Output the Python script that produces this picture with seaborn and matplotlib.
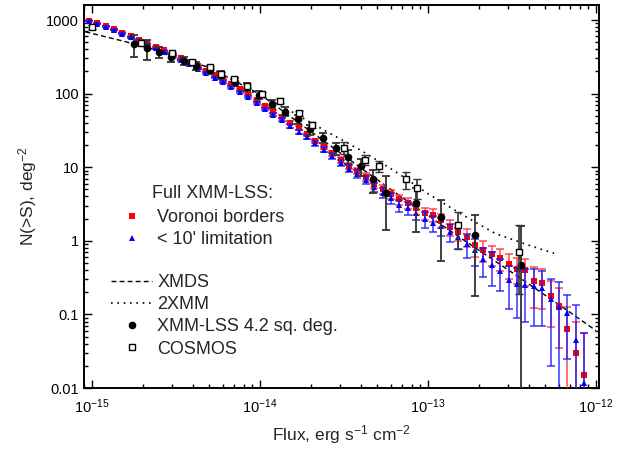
import numpy as np
import pandas as pd
import matplotlib
matplotlib.use("Agg")
import matplotlib.pyplot as plt
from matplotlib.lines import Line2D
import seaborn as sns

# ---------------- data ----------------
# Full XMM-LSS bins (log10 of flux, erg s^-1 cm^-2)
full_logflux = [-15.02, -14.97, -14.92, -14.87, -14.82, -14.77, -14.72, -14.67, -14.62, -14.57,
                -14.52, -14.47, -14.42, -14.37, -14.32, -14.27, -14.22, -14.17, -14.12, -14.07,
                -14.02, -13.97, -13.92, -13.87, -13.82, -13.77, -13.72, -13.67, -13.62, -13.57,
                -13.52, -13.47, -13.42, -13.37, -13.32, -13.27, -13.22, -13.17, -13.12, -13.07,
                -13.02, -12.97, -12.92, -12.87, -12.82, -12.77, -12.72, -12.67, -12.62, -12.57,
                -12.52, -12.47, -12.42, -12.37, -12.32, -12.27, -12.22, -12.17, -12.12, -12.07]

voronoi_n = [977, 902, 828, 748, 671, 603, 537, 482, 434, 389,
             344, 304, 268, 234, 204, 178, 155, 133, 115, 98,
             82, 68, 57, 48.5, 40, 34, 28, 23, 19, 15.5,
             12.5, 10.5, 8.9, 7.4, 6.0, 5.0, 4.3, 3.66, 3.24, 2.77,
             2.37, 2.24, 1.92, 1.56, 1.33, 1.14, 0.88, 0.75, 0.66, 0.58,
             0.48, 0.42, 0.40, 0.284, 0.27, 0.178, 0.13, 0.063, 0.030, 0.015]
voronoi_err = [9.4, 9.1, 8.7, 8.2, 7.8, 7.4, 7.0, 6.6, 6.3, 5.9,
               5.6, 5.3, 4.9, 4.6, 4.3, 4.0, 3.75, 3.5, 3.2, 3.0,
               2.7, 2.5, 2.3, 2.1, 1.9, 1.76, 1.6, 1.45, 1.31, 1.19,
               1.07, 0.98, 0.9, 0.82, 0.74, 0.67, 0.63, 0.58, 0.54, 0.5,
               0.46, 0.45, 0.42, 0.38, 0.35, 0.32, 0.28, 0.24, 0.2, 0.19,
               0.18, 0.16, 0.16, 0.16, 0.15, 0.11, 0.095, 0.065, 0.05, 0.041]

limit10_n = [970, 890, 815, 735, 655, 585, 520, 462, 412, 368,
             325, 285, 250, 218, 190, 165, 143, 123, 106, 90,
             75, 62, 52, 44, 36.5, 30.5, 25.5, 21, 17.3, 14.2,
             11.5, 9.6, 8.1, 6.7, 5.4, 4.5, 3.8, 3.06, 2.77, 2.41,
             1.96, 1.76, 1.59, 1.33, 1.14, 0.91, 0.75, 0.56, 0.47, 0.39,
             0.29, 0.26, 0.25, 0.24, 0.23, 0.16, 0.126, 0.105, 0.045, 0.0116]
limit10_err = [10.4, 9.9, 9.5, 9.0, 8.5, 8.1, 7.6, 7.2, 6.8, 6.4,
               6.0, 5.6, 5.3, 4.9, 4.6, 4.3, 4.0, 3.7, 3.4, 3.2,
               2.9, 2.6, 2.4, 2.2, 2.0, 1.84, 1.68, 1.53, 1.39, 1.26,
               1.13, 1.03, 0.95, 0.86, 0.77, 0.71, 0.65, 0.58, 0.55, 0.52,
               0.47, 0.44, 0.42, 0.38, 0.36, 0.32, 0.30, 0.24, 0.225, 0.18,
               0.17, 0.17, 0.17, 0.17, 0.16, 0.14, 0.15, 0.08, 0.09, 0.045]

# XMM-LSS 4.2 sq. deg.
lss42_logflux = [-14.75, -14.675, -14.6, -14.53, -14.455, -14.38, -14.3, -14.23, -14.15, -14.08,
                 -14.005, -13.93, -13.85, -13.775, -13.7, -13.625, -13.545, -13.475, -13.4, -13.325,
                 -13.25, -13.07, -12.92, -12.72, -12.445]
lss42_n = [472, 412, 364, 311, 280, 239, 209, 179, 145, 124,
           95.5, 72, 57, 45, 32.7, 25, 18, 13.9, 10.3, 6.9,
           4.5, 3.3, 2.09, 1.2, 0.47]
lss42_err = [160, 125, 62, 38, 34, 29, 25, 21, 17, 15,
             12, 9, 8, 6.5, 5, 4, 3.2, 3.0, 2.6, 2.4,
             3.1, 2.0, 1.55, 1.02, 1.1]

# COSMOS
cosmos_logflux = [-15.0, -14.706, -14.526, -14.407, -14.3, -14.23, -14.157, -14.079, -13.99, -13.883,
                  -13.767, -13.69, -13.5, -13.377, -13.294, -13.133, -13.065, -12.821, -12.46]
cosmos_n = [811, 482, 353, 273, 228, 186, 156, 126, 97.5, 80,
            54, 37.5, 18.4, 12.6, 10.4, 6.85, 5.3, 1.63, 0.71]
cosmos_err_lo = [50, 30, 20, 15, 12, 10, 9, 8, 7, 6,
                 4.5, 3.5, 3.5, 1.9, 1.8, 1.8, 1.6, 0.85, 0.52]
cosmos_err_hi = [50, 30, 20, 15, 12, 10, 9, 8, 7, 6,
                 4.5, 3.5, 3.5, 1.9, 1.8, 1.8, 1.6, 0.85, 0.93]

# XMDS and 2XMM curves (log10 flux, log10 N)
xmds_logflux = [-15.04, -14.8, -14.55, -14.3, -14.0, -13.7, -13.4, -13.1, -12.8, -12.5, -12.2, -12.0]
xmds_logn = [2.84, 2.705, 2.55, 2.35, 1.99, 1.49, 0.99, 0.5, 0.03, -0.43, -0.90, -1.22]
xmm2_logflux = [-14.6, -14.4, -14.2, -14.0, -13.8, -13.6, -13.4, -13.2, -13.0, -12.8, -12.6, -12.4, -12.25]
xmm2_logn = [2.57, 2.38, 2.18, 1.98, 1.74, 1.48, 1.23, 0.95, 0.64, 0.36, 0.10, -0.06, -0.17]

# ---------------- style ----------------
sns.set_style("ticks")
plt.rcParams['font.family'] = ['Liberation Sans', 'DejaVu Sans']
plt.rcParams['mathtext.fontset'] = 'custom'
plt.rcParams['mathtext.rm'] = 'Liberation Sans'
plt.rcParams['mathtext.it'] = 'Liberation Sans:italic'
plt.rcParams['mathtext.bf'] = 'Liberation Sans:bold'

W, H = 634, 450
fig = plt.figure(figsize=(W / 100, H / 100), dpi=100)
L, R, B, T = 84, 599, 388, 5
ax = fig.add_axes([L / W, 1 - B / H, (R - L) / W, (B - T) / H])
ax.set_xscale('log')
ax.set_yscale('log')

full_flux = 10 ** np.array(full_logflux)

# model curves via seaborn
df_xmds = pd.DataFrame({'S': 10 ** np.array(xmds_logflux), 'N': 10 ** np.array(xmds_logn)})
df_2xmm = pd.DataFrame({'S': 10 ** np.array(xmm2_logflux), 'N': 10 ** np.array(xmm2_logn)})
sns.lineplot(data=df_xmds, x='S', y='N', ax=ax, color='black', lw=1.0,
             dashes=False, zorder=2)
ax.lines[-1].set_dashes((3.6, 2.2))
sns.lineplot(data=df_2xmm, x='S', y='N', ax=ax, color='black', lw=1.2,
             dashes=False, zorder=2)
ax.lines[-1].set_dashes((1, 2.8))

# Voronoi borders (red)
ax.errorbar(full_flux, voronoi_n, yerr=voronoi_err, fmt='none', ecolor=(1, 0.2, 0.2, 0.75),
            elinewidth=1.3, capsize=3, capthick=1.3, zorder=3)
ax.plot(full_flux, voronoi_n, 's', color='#ff0000', ms=4.2, mew=0, zorder=4)
# < 10' limitation (blue)
ax.errorbar(full_flux, limit10_n, yerr=limit10_err, fmt='none', ecolor=(0.1, 0.1, 1.0, 0.75),
            elinewidth=1.3, capsize=3, capthick=1.3, zorder=5)
ax.plot(full_flux, limit10_n, '^', color='#0000ff', ms=4.6, mew=0, zorder=6)

# XMM-LSS 4.2 sq. deg.
lss_flux = 10 ** np.array(lss42_logflux)
ax.errorbar(lss_flux, lss42_n, yerr=lss42_err, fmt='o', color='black', ecolor='0.2',
            ms=4.5, elinewidth=1.3, capsize=3, capthick=1.3, zorder=7)
# COSMOS
cos_flux = 10 ** np.array(cosmos_logflux)
ax.errorbar(cos_flux, cosmos_n, yerr=[cosmos_err_lo, cosmos_err_hi], fmt='s', color='black',
            mfc='white', mec='black', mew=1.0, ms=4.5, ecolor='0.2',
            elinewidth=1.2, capsize=3, capthick=1.2, zorder=8)

# ---------------- axes ----------------
ax.set_xlim(10 ** -15.048, 10 ** -11.982)
ax.set_ylim(0.01, 10 ** 3.204)
ax.set_xticks([1e-15, 1e-14, 1e-13, 1e-12])
ax.set_xticklabels(['$10^{-15}$', '$10^{-14}$', '$10^{-13}$', '$10^{-12}$'])
ax.set_yticks([0.01, 0.1, 1, 10, 100, 1000])
ax.set_yticklabels(['0.01', '0.1', '1', '10', '100', '1000'])
ax.tick_params(which='both', direction='in', top=True, right=True, width=1.0,
               labelsize=10.5, colors='black')
ax.tick_params(which='major', length=6)
ax.tick_params(which='minor', length=3)
ax.tick_params(axis='x', which='major', pad=7)
for s in ax.spines.values():
    s.set_linewidth(1.4)
    s.set_color('black')

ax.set_xlabel('Flux, erg s$^{-1}$ cm$^{-2}$', fontsize=12.5, labelpad=5)
ax.set_ylabel('N(>S), deg$^{-2}$', fontsize=12.5, labelpad=5)

# ---------------- legends ----------------
h_vor = Line2D([], [], marker='s', ls='none', color='#ff0000', ms=4, mew=0)
h_lim = Line2D([], [], marker='^', ls='none', color='#0000ff', ms=4.5, mew=0)
leg1 = ax.legend([h_vor, h_lim], ['Voronoi borders', "< 10' limitation"],
                 loc='upper left', bbox_to_anchor=((111 - L) / (R - L), (B - 209) / (B - T)),
                 frameon=False, fontsize=13, handlelength=2.28, handletextpad=0.28,
                 labelspacing=0.29, borderpad=0, borderaxespad=0)
ax.add_artist(leg1)
ax.text((152 - L) / (R - L), (B - 194) / (B - T), 'Full XMM-LSS:', transform=ax.transAxes,
        fontsize=13, va='center', ha='left')

h_xmds = Line2D([], [], color='black', lw=1.0, dashes=(3.6, 2.2))
h_2xmm = Line2D([], [], color='black', lw=1.2, dashes=(1, 2.8))
h_lss = Line2D([], [], marker='o', ls='none', color='black', ms=4.5)
h_cos = Line2D([], [], marker='s', ls='none', mfc='white', mec='black', mew=1.0, ms=4)
ax.legend([h_xmds, h_2xmm, h_lss, h_cos], ['XMDS', '2XMM', 'XMM-LSS 4.2 sq. deg.', 'COSMOS'],
          loc='upper left', bbox_to_anchor=((111 - L) / (R - L), (B - 274) / (B - T)),
          frameon=False, fontsize=13, handlelength=2.28, handletextpad=0.28,
          labelspacing=0.29, borderpad=0, borderaxespad=0)

fig.savefig('out.png', dpi=100)
